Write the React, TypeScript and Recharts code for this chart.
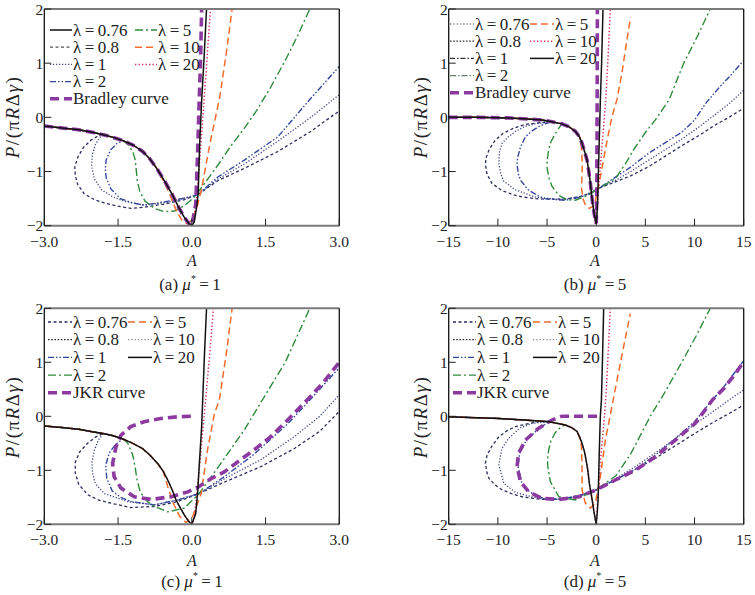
import { LineChart, Line, XAxis, YAxis, ReferenceLine } from "recharts";

type Pt = [number, number];

const FONT = '"Liberation Serif", "Times New Roman", "DejaVu Serif", serif';
const INK = "#222";

// ---------- (a) mu* = 1, Bradley ----------
const upA: Pt[] = [[-3,-0.16],[-2.6,-0.2],[-2.3,-0.23],[-2.0,-0.28],[-1.8,-0.32],[-1.6,-0.37],[-1.4,-0.43],[-1.2,-0.51],[-1.0,-0.63],[-0.85,-0.77],[-0.7,-0.96],[-0.55,-1.18],[-0.4,-1.42],[-0.28,-1.64],[-0.15,-1.85],[-0.05,-1.97],[0,-2]];
const a076: Pt[] = [[-1.9,-0.34],[-2.05,-0.42],[-2.2,-0.55],[-2.31,-0.72],[-2.38,-0.91],[-2.37,-1.07],[-2.32,-1.24],[-2.19,-1.41],[-1.98,-1.52],[-1.78,-1.58],[-1.5,-1.64],[-1.24,-1.68],[-0.97,-1.66],[-0.56,-1.6],[-0.15,-1.52],[0.13,-1.42],[0.53,-1.17],[1.07,-0.94],[1.75,-0.63],[2.42,-0.26],[3,0.12]];
const a08: Pt[] = [[-1.88,-0.38],[-1.96,-0.5],[-2.02,-0.68],[-2.04,-0.9],[-1.98,-1.14],[-1.83,-1.34],[-1.6,-1.47],[-1.37,-1.55],[-0.97,-1.62],[-0.5,-1.57],[-0.1,-1.48],[0.13,-1.42],[0.53,-1.14],[1.07,-0.86],[1.75,-0.44],[2.42,0.0],[3,0.42]];
const a1: Pt[] = [[-1.52,-0.48],[-1.65,-0.6],[-1.74,-0.78],[-1.76,-0.95],[-1.74,-1.12],[-1.64,-1.33],[-1.45,-1.5],[-1.2,-1.58],[-0.97,-1.62],[-0.56,-1.56],[-0.08,-1.48],[0.13,-1.42],[0.53,-1.1],[1.07,-0.79],[1.75,-0.36],[2.39,0.32],[3,0.94]];
const a2: Pt[] = [[-1.3,-0.5],[-1.2,-0.63],[-1.15,-0.79],[-1.13,-0.97],[-1.11,-1.16],[-1.06,-1.36],[-0.95,-1.55],[-0.76,-1.68],[-0.56,-1.74],[-0.35,-1.73],[-0.15,-1.63],[0.02,-1.5],[0.13,-1.38],[0.3,-1.17],[0.53,-0.88],[0.8,-0.52],[1.07,-0.2],[1.3,0.1],[1.6,0.55],[1.9,1.05],[2.15,1.5],[2.4,2]];
const a5: Pt[] = [[-0.56,-1.2],[-0.43,-1.46],[-0.31,-1.73],[-0.2,-1.9],[-0.1,-1.96],[0.0,-1.9],[0.1,-1.68],[0.2,-1.32],[0.27,-0.97],[0.37,-0.48],[0.47,-0.05],[0.57,0.38],[0.71,1.24],[0.82,2]];
const a10: Pt[] = [[0.05,-1.85],[0.12,-1.3],[0.2,-0.3],[0.28,0.7],[0.38,2]];
const aBrad: Pt[] = [[0.08,-1.6],[0.12,-0.6],[0.15,0.3],[0.18,1.1],[0.2,2]];
const aBlack: Pt[] = [[0.05,-1.93],[0.1,-1.65],[0.13,-1.4],[0.16,-0.5],[0.2,0.3],[0.25,1.1],[0.3,2]];

// ---------- (b) mu* = 5, Bradley ----------
const upB: Pt[] = [[-15,0],[-12,0],[-9,-0.01],[-7,-0.03],[-5.5,-0.05],[-4.5,-0.08],[-3.5,-0.12],[-2.8,-0.17],[-2.1,-0.26],[-1.7,-0.36],[-1.44,-0.48],[-1.15,-0.65],[-0.93,-0.79],[-0.75,-1.0],[-0.59,-1.22],[-0.45,-1.45],[-0.36,-1.59],[-0.2,-1.78],[-0.08,-1.9],[0,-1.96]];
const b076: Pt[] = [[-5.8,-0.1],[-7.2,-0.13],[-8.4,-0.2],[-9.5,-0.3],[-10.3,-0.43],[-10.9,-0.6],[-11.2,-0.75],[-11.27,-0.87],[-11.1,-1.05],[-10.6,-1.22],[-9.6,-1.35],[-8.4,-1.43],[-7.5,-1.47],[-6.2,-1.5],[-5.2,-1.51],[-4,-1.51],[-2.8,-1.5],[-1.6,-1.46],[-0.76,-1.41],[0.25,-1.31],[1.95,-1.19],[3.5,-1.08],[5.34,-0.91],[7,-0.72],[8.73,-0.52],[10.5,-0.33],[12.1,-0.14],[13.5,0.0],[15,0.17]];
const b08: Pt[] = [[-6.2,-0.12],[-7.3,-0.17],[-8.2,-0.26],[-9.0,-0.37],[-9.58,-0.48],[-9.85,-0.65],[-9.9,-0.85],[-9.7,-1.05],[-9.4,-1.18],[-8.2,-1.34],[-6.2,-1.47],[-3.8,-1.52],[-1.44,-1.46],[0.25,-1.31],[2,-1.16],[3.5,-1.0],[5.34,-0.79],[7,-0.6],[8.73,-0.4],[10.5,-0.17],[12.1,0.05],[13.5,0.25],[15,0.5]];
const b1: Pt[] = [[-5.2,-0.12],[-5.85,-0.17],[-6.6,-0.26],[-7.2,-0.36],[-7.7,-0.55],[-8.0,-0.75],[-8.05,-0.88],[-7.9,-1.05],[-7.7,-1.16],[-6.9,-1.34],[-5.8,-1.46],[-5.2,-1.5],[-3.14,-1.53],[-1.8,-1.48],[-0.76,-1.42],[0.25,-1.31],[2,-1.1],[3.5,-0.92],[5.34,-0.66],[7,-0.47],[8.73,-0.27],[10,-0.05],[11.1,0.25],[12.5,0.55],[13.8,0.8],[15,1.05]];
const b2: Pt[] = [[-3.8,-0.2],[-4.15,-0.3],[-4.6,-0.45],[-4.83,-0.6],[-5,-0.8],[-4.98,-0.95],[-4.8,-1.12],[-4.5,-1.27],[-3.8,-1.44],[-3.0,-1.52],[-2.1,-1.53],[-0.76,-1.43],[0.25,-1.31],[1.95,-1.13],[3,-0.85],[3.9,-0.57],[5,-0.28],[6,-0.05],[7.4,0.32],[8.9,1.0],[10.3,1.5],[11.6,2]];
const b5: Pt[] = [[-1.5,-0.55],[-1.45,-0.75],[-1.42,-0.95],[-1.46,-1.15],[-1.5,-1.3],[-1.35,-1.5],[-1.1,-1.62],[-0.7,-1.68],[-0.3,-1.64],[-0.08,-1.53],[0.15,-1.35],[0.42,-1.1],[0.68,-0.85],[0.93,-0.6],[1.25,-0.3],[1.6,0.01],[2.1,0.32],[2.6,0.8],[3.1,1.4],[3.5,1.85]];
const b10: Pt[] = [[0.08,-1.71],[0.25,-1.3],[0.42,-0.91],[0.6,-0.5],[0.76,-0.17],[1.0,0.4],[1.2,1.1],[1.44,2]];
const bBrad: Pt[] = [[0.06,-1.5],[0.08,-0.5],[0.1,0.5],[0.12,2]];
const bBlack: Pt[] = [[0.08,-1.8],[0.15,-1.5],[0.3,-0.5],[0.42,0.3],[0.55,1.0],[0.69,2]];

// ---------- (c) mu* = 1, JKR ----------
const upC: Pt[] = [[-3,-0.18],[-2.6,-0.21],[-2.3,-0.24],[-2.0,-0.29],[-1.8,-0.32],[-1.6,-0.36],[-1.4,-0.42],[-1.2,-0.5],[-1.0,-0.6],[-0.85,-0.72],[-0.69,-0.88],[-0.58,-1.02],[-0.49,-1.18],[-0.4,-1.36],[-0.32,-1.55],[-0.22,-1.72],[-0.15,-1.83],[-0.06,-1.95],[0,-2]];
const c076: Pt[] = [[-1.95,-0.38],[-2.12,-0.5],[-2.28,-0.66],[-2.37,-0.85],[-2.37,-1.05],[-2.3,-1.26],[-2.12,-1.45],[-1.9,-1.55],[-1.64,-1.61],[-1.24,-1.69],[-0.76,-1.67],[-0.29,-1.58],[0.15,-1.43],[0.66,-1.22],[1.41,-0.93],[2.08,-0.6],[2.6,-0.28],[3,0.09]];
const c08: Pt[] = [[-1.9,-0.44],[-1.98,-0.62],[-2.03,-0.85],[-2.02,-1.05],[-1.96,-1.25],[-1.78,-1.43],[-1.3,-1.58],[-0.76,-1.64],[-0.29,-1.55],[0.15,-1.43],[0.66,-1.16],[1.41,-0.8],[2.08,-0.38],[2.6,0.0],[3,0.4]];
const c1: Pt[] = [[-1.55,-0.52],[-1.68,-0.68],[-1.75,-0.9],[-1.73,-1.15],[-1.62,-1.38],[-1.45,-1.5],[-1.24,-1.58],[-0.76,-1.64],[-0.29,-1.55],[0.15,-1.43],[0.66,-1.12],[1.27,-0.7],[1.95,-0.14],[2.4,0.3],[3,0.9]];
const c2: Pt[] = [[-1.3,-0.5],[-1.2,-0.72],[-1.15,-0.95],[-1.12,-1.15],[-1.05,-1.4],[-0.9,-1.58],[-0.76,-1.67],[-0.49,-1.77],[-0.15,-1.7],[0.15,-1.43],[0.53,-0.95],[1.07,-0.25],[1.5,0.4],[1.9,1.0],[2.4,2]];
const c5: Pt[] = [[-0.49,-1.3],[-0.38,-1.6],[-0.25,-1.85],[-0.12,-1.97],[0.02,-1.85],[0.19,-1.43],[0.32,-0.62],[0.46,0.05],[0.56,0.3],[0.7,1.15],[0.82,2]];
const c10: Pt[] = [[0.05,-1.9],[0.15,-1.0],[0.25,0],[0.35,1],[0.44,2]];
const cBlack: Pt[] = [[0.08,-1.8],[0.12,-1.4],[0.15,-0.93],[0.2,-0.2],[0.23,0.5],[0.26,1.2],[0.3,2]];
const cJkr: Pt[] = [[-0.02,0.0],[-0.3,-0.01],[-0.63,-0.04],[-0.97,-0.1],[-1.24,-0.19],[-1.44,-0.35],[-1.54,-0.56],[-1.61,-0.87],[-1.58,-1.12],[-1.44,-1.33],[-1.17,-1.49],[-0.83,-1.54],[-0.42,-1.49],[-0.08,-1.4],[0.15,-1.3],[0.4,-1.15],[0.66,-1.03],[1.0,-0.8],[1.27,-0.62],[1.6,-0.38],[1.95,-0.07],[2.3,0.26],[2.65,0.6],[3,1.0]];

// ---------- (d) mu* = 5, JKR ----------
const upD: Pt[] = [[-15,-0.01],[-9.9,-0.04],[-6.5,-0.08],[-4.8,-0.1],[-3.14,-0.16],[-2.5,-0.21],[-1.95,-0.28],[-1.7,-0.38],[-1.44,-0.5],[-1.2,-0.65],[-1.03,-0.81],[-0.85,-1.0],[-0.7,-1.24],[-0.5,-1.45],[-0.36,-1.61],[-0.2,-1.8],[-0.08,-1.92],[0,-2]];
const d076: Pt[] = [[-5.85,-0.1],[-7,-0.14],[-8.2,-0.19],[-9.1,-0.27],[-9.9,-0.38],[-10.6,-0.55],[-11.1,-0.72],[-11.27,-0.87],[-11.1,-1.05],[-10.9,-1.15],[-10.3,-1.27],[-9.58,-1.36],[-8.5,-1.44],[-7.54,-1.49],[-6,-1.53],[-5.17,-1.54],[-4,-1.53],[-2.8,-1.52],[-1.4,-1.45],[-0.08,-1.37],[2,-1.17],[4,-0.98],[6,-0.78],[8,-0.55],[10,-0.32],[12,-0.1],[13.5,0.05],[15,0.21]];
const d08: Pt[] = [[-6.5,-0.13],[-7.8,-0.22],[-8.9,-0.41],[-9.6,-0.6],[-9.9,-0.9],[-9.4,-1.24],[-8.2,-1.41],[-5.85,-1.52],[-3.14,-1.54],[-1.2,-1.45],[-0.08,-1.37],[2,-1.15],[4,-0.93],[6,-0.68],[8,-0.42],[10,-0.15],[12,0.1],[13.5,0.3],[15,0.49]];
const d1: Pt[] = [[-5.8,-0.22],[-7.1,-0.44],[-7.8,-0.69],[-7.95,-0.93],[-7.6,-1.21],[-6.8,-1.4],[-5.4,-1.52],[-3.8,-1.54],[-1.78,-1.47],[-0.08,-1.37],[2,-1.17],[4,-0.98],[6,-0.72],[8,-0.42],[10,-0.1],[11.8,0.3],[13,0.55],[15,1.03]];
const d2: Pt[] = [[-3.6,-0.2],[-4.15,-0.3],[-4.6,-0.45],[-4.83,-0.62],[-4.95,-0.8],[-4.93,-0.93],[-4.66,-1.21],[-3.8,-1.49],[-2.12,-1.55],[-0.08,-1.37],[2,-1.1],[3.5,-0.7],[5.5,0],[7,0.45],[8.7,1.0],[10.2,1.5],[11.6,2]];
const d5: Pt[] = [[-1.5,-0.55],[-1.44,-0.93],[-1.44,-1.36],[-1.1,-1.61],[-0.59,-1.7],[-0.08,-1.61],[0.42,-1.12],[0.93,-0.44],[1.6,0.18],[2.2,0.75],[2.8,1.3],[3.47,1.9]];
const d10: Pt[] = [[0.1,-1.7],[0.4,-0.9],[0.76,-0.17],[1.0,0.4],[1.2,1.1],[1.44,2]];
const dBlack: Pt[] = [[0.1,-1.8],[0.19,-1.55],[0.32,-0.62],[0.42,0.0],[0.53,0.3],[0.63,1.0],[0.76,2]];
const dJkr: Pt[] = [[0.08,0],[-1.5,0],[-3.5,0],[-4.5,-0.07],[-5.85,-0.22],[-7.2,-0.44],[-7.9,-0.69],[-8.05,-0.93],[-7.7,-1.21],[-6.86,-1.4],[-5.5,-1.52],[-3.8,-1.54],[-1.78,-1.49],[-0.08,-1.37],[1.95,-1.18],[3.98,-1.0],[6.02,-0.75],[8.05,-0.44],[10.08,-0.13],[11.8,0.3],[13,0.52],[14,0.75],[15,1.01]];

const ticksSmall = [-3, -1.5, 0, 1.5, 3];
const ticksWide = [-15, -10, -5, 0, 5, 10, 15];
const ticksY = [-2, -1, 0, 1, 2];

const STYLE: Record<string, any> = {
  navyDash: { stroke: "#2b2e5c", strokeWidth: 1.3, strokeDasharray: "3 2.5" },
  navyDot: { stroke: "#3c4286", strokeWidth: 1.3, strokeDasharray: "1.2 1.8" },
  blueDdd: { stroke: "#34479c", strokeWidth: 1.4, strokeDasharray: "6 2 1.5 2 1.5 2" },
  green: { stroke: "#2f8b3c", strokeWidth: 1.4, strokeDasharray: "8 3 2 3" },
  orange: { stroke: "#f26b2b", strokeWidth: 1.5, strokeDasharray: "7 4" },
  pink: { stroke: "#cf2f5a", strokeWidth: 1.5, strokeDasharray: "1.3 2.2" },
  black: { stroke: "#111", strokeWidth: 1.5 },
  purple: { stroke: "#8c3aa0", strokeWidth: 3.6, strokeDasharray: "9 5" },
  grayDash: { stroke: "#555", strokeWidth: 1.2, strokeDasharray: "3 2.5" },
  grayDot: { stroke: "#888", strokeWidth: 1.3, strokeDasharray: "1.3 2" },
  darkDot: { stroke: "#333", strokeWidth: 1.2, strokeDasharray: "1.6 1.6" },
  darkDashDot: { stroke: "#333", strokeWidth: 1.2, strokeDasharray: "5 2 1.5 2" },
  grayDashDot: { stroke: "#6d7d6d", strokeWidth: 1.2, strokeDasharray: "6 2 1.5 2" },
};

const join = (head: Pt[], cut: number, tail: Pt[]): Pt[] => [...head.filter((p) => p[0] <= cut), ...tail];

const PANELS = [
  {
    id: "a", x0: 44.3, x1: 339.3, y0: 9, y1: 225.7, domain: [-3, 3], ticks: ticksSmall, dec: 1,
    ylab: [12, 117], alab: [192, 260], cap: [190, 284], capText: "(a)", mu: "1",
    series: [
      [join(upA, -1.8, a076), "navyDash"], [join(upA, -1.8, a08), "navyDot"], [join(upA, -1.4, a1), "blueDdd"],
      [join(upA, -1.4, a2), "green"], [join(upA, -0.7, a5), "orange"], [join(upA, 0, a10), "pink"],
      [join(upA, 0, aBrad), "purple"], [join(upA, 0, aBlack), "black"],
    ],
    legend: {
      c1: [50, 72], c2: [135, 157], y: 30, dy: 17.2,
      left: [["λ\u2009=\u20090.76", "black"], ["λ\u2009=\u20090.8", "grayDash"], ["λ\u2009=\u20091", "navyDot"], ["λ\u2009=\u20092", "blueDdd"], ["Bradley curve", "purple"]],
      right: [["λ\u2009=\u20095", "green"], ["λ\u2009=\u200910", "orange"], ["λ\u2009=\u200920", "pink"]],
    },
  },
  {
    id: "b", x0: 448.7, x1: 743.7, y0: 9, y1: 225.7, domain: [-15, 15], ticks: ticksWide, dec: 0,
    ylab: [420, 117], alab: [595, 260], cap: [595, 284], capText: "(b)", mu: "5",
    series: [
      [join(upB, -4.5, b076), "navyDash"], [join(upB, -4.5, b08), "navyDot"], [join(upB, -4.5, b1), "blueDdd"],
      [join(upB, -3.5, b2), "green"], [join(upB, -1.7, b5), "orange"], [join(upB, 0, b10), "pink"],
      [join(upB, 0, bBrad), "purple"], [join(upB, 0, bBlack), "black"],
    ],
    legend: {
      c1: [450, 474], c2: [530, 554], y: 24, dy: 17.2,
      left: [["λ\u2009=\u20090.76", "grayDot"], ["λ\u2009=\u20090.8", "darkDot"], ["λ\u2009=\u20091", "darkDashDot"], ["λ\u2009=\u20092", "grayDashDot"], ["Bradley curve", "purple"]],
      right: [["λ\u2009=\u20095", "orange"], ["λ\u2009=\u200910", "pink"], ["λ\u2009=\u200920", "black"]],
    },
  },
  {
    id: "c", x0: 44.3, x1: 339.3, y0: 308.3, y1: 524.3, domain: [-3, 3], ticks: ticksSmall, dec: 1,
    ylab: [12, 417], alab: [192, 560], cap: [192, 581], capText: "(c)", mu: "1",
    series: [
      [join(upC, -1.8, c076), "navyDash"], [join(upC, -1.8, c08), "navyDot"], [join(upC, -1.4, c1), "blueDdd"],
      [join(upC, -1.4, c2), "green"], [join(upC, -0.58, c5), "orange"], [join(upC, 0, c10), "pink"],
      [cJkr, "purple"], [join(upC, 0, cBlack), "black"],
    ],
    legend: {
      c1: [48, 72], c2: [128, 152], y: 322, dy: 17.7,
      left: [["λ\u2009=\u20090.76", "navyDash"], ["λ\u2009=\u20090.8", "darkDot"], ["λ\u2009=\u20091", "blueDdd"], ["λ\u2009=\u20092", "green"], ["JKR curve", "purple"]],
      right: [["λ\u2009=\u20095", "orange"], ["λ\u2009=\u200910", "grayDot"], ["λ\u2009=\u200920", "black"]],
    },
  },
  {
    id: "d", x0: 448.7, x1: 743.7, y0: 308.3, y1: 524.3, domain: [-15, 15], ticks: ticksWide, dec: 0,
    ylab: [420, 417], alab: [595, 560], cap: [595, 581], capText: "(d)", mu: "5",
    series: [
      [join(upD, -4.8, d076), "navyDash"], [join(upD, -4.8, d08), "navyDot"], [join(upD, -4.8, d1), "blueDdd"],
      [join(upD, -3.14, d2), "green"], [join(upD, -1.7, d5), "orange"], [join(upD, 0, d10), "pink"],
      [dJkr, "purple"], [join(upD, 0, dBlack), "black"],
    ],
    legend: {
      c1: [453, 476], c2: [533, 557], y: 322, dy: 17.7,
      left: [["λ\u2009=\u20090.76", "navyDash"], ["λ\u2009=\u20090.8", "darkDot"], ["λ\u2009=\u20091", "blueDdd"], ["λ\u2009=\u20092", "green"], ["JKR curve", "purple"]],
      right: [["λ\u2009=\u20095", "orange"], ["λ\u2009=\u200910", "grayDot"], ["λ\u2009=\u200920", "black"]],
    },
  },
];

const fmtNum = (dec: number) => (v: number) => (v < 0 ? "\u2212" : "") + Math.abs(v).toFixed(dec);
const tickStyle = { fontFamily: FONT, fontSize: 15.5, fill: INK, style: { fontFamily: FONT } };

function Panel({ p }: { p: any }) {
  const [xa, xb] = p.domain;
  return (
    <div style={{ position: "absolute", left: 0, top: 0 }}>
      <LineChart
        width={755}
        height={595}
        margin={{ top: p.y0, right: 755 - p.x1, bottom: 595 - p.y1 - 30, left: 0 }}
      >
        <XAxis
          type="number"
          dataKey="x"
          domain={p.domain}
          ticks={p.ticks}
          interval={0}
          allowDataOverflow
          axisLine={false}
          tickSize={-7}
          tickMargin={17}
          height={30}
          tick={tickStyle}
          tickLine={{ stroke: INK }}
          tickFormatter={fmtNum(p.dec)}
        />
        <YAxis
          type="number"
          domain={[-2, 2]}
          ticks={ticksY}
          interval={0}
          allowDataOverflow
          axisLine={false}
          tickSize={-7}
          tickMargin={8}
          width={p.x0}
          tick={tickStyle}
          tickLine={{ stroke: INK }}
          tickFormatter={fmtNum(0)}
        />
        {p.series.map(([pts, st]: [Pt[], string], i: number) => (
          <Line
            key={p.id + i}
            data={pts.map(([x, y]) => ({ x, y }))}
            dataKey="y"
            type="linear"
            dot={false}
            activeDot={false}
            isAnimationActive={false}
            {...STYLE[st]}
          />
        ))}
        <ReferenceLine y={2} stroke="#7a7a7a" strokeWidth={2} />
        <ReferenceLine y={-2} stroke="#7a7a7a" strokeWidth={2} />
        <ReferenceLine x={xa} stroke="#111" strokeWidth={1.3} />
        <ReferenceLine x={xb} stroke="#111" strokeWidth={1.3} />
      </LineChart>
    </div>
  );
}

function Overlay() {
  return (
    <svg width={755} height={595} style={{ position: "absolute", left: 0, top: 0, pointerEvents: "none", fontFamily: FONT }} fill={INK}>
      {PANELS.map((p) => {
        const L = p.legend;
        const rows = (items: any[], col: number[]) =>
          items.map(([label, st]: [string, string], i: number) => {
            const y = L.y + i * L.dy;
            return (
              <g key={p.id + label}>
                <line x1={col[0]} x2={col[1]} y1={y} y2={y} {...STYLE[st]} />
                <text x={col[1] + 1} y={y} fontSize={17} dominantBaseline="central">{label}</text>
              </g>
            );
          });
        return (
          <g key={p.id}>
            {rows(L.left, L.c1)}
            {rows(L.right, L.c2)}
            <text
              transform={`translate(${p.ylab[0]},${p.ylab[1]}) rotate(-90)`}
              textAnchor="middle"
              dominantBaseline="central"
              fontSize={19}
              letterSpacing={1.5}
            >
              <tspan fontStyle="italic">P</tspan>/(π<tspan fontStyle="italic">R</tspan>Δ<tspan fontStyle="italic">γ</tspan>)
            </text>
            <text x={p.alab[0]} y={p.alab[1]} textAnchor="middle" dominantBaseline="central" fontSize={16} fontStyle="italic">A</text>
            <text x={p.cap[0]} y={p.cap[1]} textAnchor="middle" dominantBaseline="central" fontSize={17}>
              {p.capText + " "}
              <tspan fontStyle="italic">μ</tspan>
              <tspan fontSize={10} dy={-6}>*</tspan>
              <tspan dy={6}>{"\u2009=\u2009" + p.mu}</tspan>
            </text>
          </g>
        );
      })}
    </svg>
  );
}

export default function App() {
  return (
    <div style={{ position: "absolute", left: 0, top: 0, width: 755, height: 595, background: "#fff" }}>
      {PANELS.map((p) => (
        <Panel key={p.id} p={p} />
      ))}
      <Overlay />
    </div>
  );
}
